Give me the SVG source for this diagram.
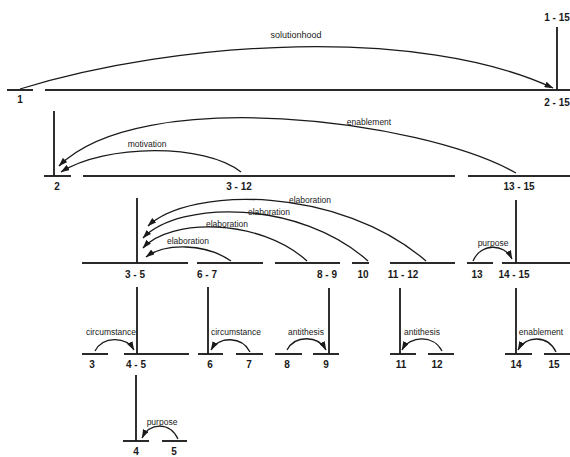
<svg xmlns="http://www.w3.org/2000/svg" width="570" height="457" viewBox="0 0 570 457">
<defs>
<marker id="ah" markerUnits="userSpaceOnUse" markerWidth="9" markerHeight="6" refX="8.5" refY="3" orient="auto">
<path d="M0,0 L9,3 L0,6 z" fill="#1a1a1a"/>
</marker>
<style>
.seg{stroke:#2a2a2a;stroke-width:2;fill:none}
.v{stroke:#1a1a1a;stroke-width:1.8;fill:none}
.arc{stroke:#1a1a1a;stroke-width:1.3;fill:none;marker-end:url(#ah)}
.num{font-family:"Liberation Sans",Arial,sans-serif;font-size:10px;font-weight:bold;fill:#1a1a1a;text-anchor:middle}
.rel{font-family:"Liberation Sans",Arial,sans-serif;font-size:8.5px;fill:#1a1a1a;text-anchor:middle}
</style>
</defs>
<rect width="570" height="457" fill="#fff"/>

<!-- Level 0/1 -->
<g id="n1-15"><text class="num" x="557" y="21">1 - 15</text></g>
<g id="n1"><line class="seg" x1="7" y1="90" x2="33" y2="90"/><text class="num" x="20" y="103">1</text></g>
<g id="n2-15"><line class="seg" x1="45" y1="90" x2="570" y2="90"/><text class="num" x="557" y="106">2 - 15</text></g>

<!-- Level 2 -->
<g id="n2"><line class="seg" x1="44" y1="176" x2="71" y2="176"/><text class="num" x="57" y="190">2</text></g>
<g id="n3-12"><line class="seg" x1="83" y1="176" x2="455" y2="176"/><text class="num" x="239" y="190">3 - 12</text></g>
<g id="n13-15"><line class="seg" x1="468" y1="176" x2="570" y2="176"/><text class="num" x="519" y="190">13 - 15</text></g>

<!-- Level 3 -->
<g id="n3-5"><line class="seg" x1="82" y1="263" x2="188" y2="263"/><text class="num" x="135" y="278">3 - 5</text></g>
<g id="n6-7"><line class="seg" x1="197" y1="263" x2="263" y2="263"/><text class="num" x="207" y="278">6 - 7</text></g>
<g id="n8-9"><line class="seg" x1="275" y1="263" x2="340" y2="263"/><text class="num" x="327" y="278">8 - 9</text></g>
<g id="n10"><line class="seg" x1="352" y1="263" x2="369" y2="263"/><text class="num" x="363" y="278">10</text></g>
<g id="n11-12"><line class="seg" x1="390" y1="263" x2="455" y2="263"/><text class="num" x="403" y="278">11 - 12</text></g>
<g id="n13"><line class="seg" x1="467" y1="263" x2="493" y2="263"/><text class="num" x="477" y="278">13</text></g>
<g id="n14-15"><line class="seg" x1="502" y1="263" x2="570" y2="263"/><text class="num" x="514" y="278">14 - 15</text></g>

<!-- Level 4 -->
<g id="n3"><line class="seg" x1="82" y1="354" x2="108" y2="354"/><text class="num" x="92" y="368">3</text></g>
<g id="n4-5"><line class="seg" x1="124" y1="354" x2="189" y2="354"/><text class="num" x="136" y="368">4 - 5</text></g>
<g id="n6"><line class="seg" x1="198" y1="354" x2="223" y2="354"/><text class="num" x="210" y="368">6</text></g>
<g id="n7"><line class="seg" x1="236" y1="354" x2="263" y2="354"/><text class="num" x="249" y="368">7</text></g>
<g id="n8"><line class="seg" x1="275" y1="354" x2="302" y2="354"/><text class="num" x="287" y="368">8</text></g>
<g id="n9"><line class="seg" x1="313" y1="354" x2="339" y2="354"/><text class="num" x="326" y="368">9</text></g>
<g id="n11"><line class="seg" x1="390" y1="354" x2="416" y2="354"/><text class="num" x="401" y="368">11</text></g>
<g id="n12"><line class="seg" x1="428" y1="354" x2="454" y2="354"/><text class="num" x="437" y="368">12</text></g>
<g id="n14"><line class="seg" x1="505" y1="354" x2="532" y2="354"/><text class="num" x="516" y="368">14</text></g>
<g id="n15"><line class="seg" x1="544" y1="354" x2="570" y2="354"/><text class="num" x="554" y="368">15</text></g>

<!-- Level 5 -->
<g id="n4"><line class="seg" x1="123" y1="441" x2="149" y2="441"/><text class="num" x="136" y="455">4</text></g>
<g id="n5"><line class="seg" x1="162" y1="441" x2="187" y2="441"/><text class="num" x="174" y="455">5</text></g>

<g id="connectors">
<!-- nucleus verticals -->
<line class="v" x1="557" y1="27" x2="557" y2="90"/>
<line class="v" x1="54" y1="111" x2="54" y2="176"/>
<line class="v" x1="137" y1="198" x2="137" y2="263"/>
<line class="v" x1="516" y1="200" x2="516" y2="263"/>
<line class="v" x1="137" y1="287" x2="137" y2="354"/>
<line class="v" x1="208" y1="287" x2="208" y2="354"/>
<line class="v" x1="329" y1="288" x2="329" y2="354"/>
<line class="v" x1="400" y1="288" x2="400" y2="354"/>
<line class="v" x1="516" y1="288" x2="516" y2="354"/>
<line class="v" x1="136" y1="375" x2="136" y2="441"/>

<!-- relation arcs -->
<path class="arc" d="M20,89 C180,40 420,26 553,88"/>
<path class="arc" d="M516,173 C420,119 140,85 59,166"/>
<path class="arc" d="M241,172 C205,143 105,144 61,172"/>
<path class="arc" d="M426,261 C340,186 190,186 148,226"/>
<path class="arc" d="M368,261 C300,200 180,200 143,238"/>
<path class="arc" d="M307,261 C260,218 170,218 143,248"/>
<path class="arc" d="M231,261 C205,243 165,243 146,257"/>
<path class="arc" d="M473,261 C481,243 504,243 512,259"/>
<path class="arc" d="M95,351 C103,336 126,336 134,350"/>
<path class="arc" d="M250,352 C242,336 219,336 211,350"/>
<path class="arc" d="M287,350 C295,335 318,335 326,350"/>
<path class="arc" d="M442,351 C434,335 410,335 402,350"/>
<path class="arc" d="M556,352 C548,335 526,335 518,350"/>
<path class="arc" d="M178,439 C170,422 150,422 142,438"/>

<!-- relation labels -->
<text class="rel" x="296" y="38" style="font-size:9px">solutionhood</text>
<text class="rel" x="369" y="125">enablement</text>
<text class="rel" x="147" y="147">motivation</text>
<text class="rel" x="310" y="203">elaboration</text>
<text class="rel" x="269" y="215">elaboration</text>
<text class="rel" x="227" y="227">elaboration</text>
<text class="rel" x="188" y="244">elaboration</text>
<text class="rel" x="493" y="246">purpose</text>
<text class="rel" x="111" y="335">circumstance</text>
<text class="rel" x="236" y="335">circumstance</text>
<text class="rel" x="306" y="335">antithesis</text>
<text class="rel" x="422" y="335">antithesis</text>
<text class="rel" x="541" y="335">enablement</text>
<text class="rel" x="162" y="425">purpose</text>
</g>
</svg>
